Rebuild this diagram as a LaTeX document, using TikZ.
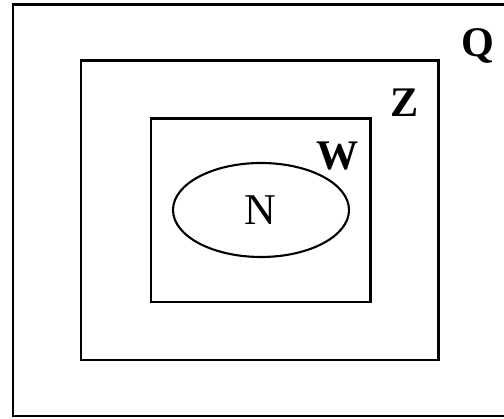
\documentclass[tikz,border=0pt]{standalone}
\usepackage{fontspec}
\setmainfont{Liberation Serif}
\usetikzlibrary{positioning,shapes.geometric}

\begin{document}
\begin{tikzpicture}[
    setbox/.style={draw=black,line width=1.7pt},
    setlabel/.style={font=\fontsize{24}{28}\selectfont\bfseries,anchor=base,inner sep=0pt},
    subset/.style={draw=black,line width=1.2pt,ellipse,minimum width=3.52cm,minimum height=1.88cm,inner sep=0pt}
  ]
  \clip (0,0) rectangle (10.08,8.38);
  \useasboundingbox (0,0) rectangle (10.08,8.38);
  % nested sets
  \draw[setbox] (0.26,0.06) rectangle (10.6,8.28);
  \draw[setbox] (1.62,1.18) rectangle (8.76,7.16);
  \draw[setbox] (3.02,2.34) rectangle (7.40,6.00);
  \node[subset] (setN) at (5.22,4.18) {};
  % labels
  \node[font=\fontsize{25}{30}\selectfont,anchor=base,inner sep=0pt] (labN) at (5.20,3.88) {N};
  \node[setlabel] (labW) at (6.76,4.98) {W};
  \node[setlabel] (labZ) at (8.10,6.04) {Z};
  \node[setlabel] (labQ) at (9.56,7.24) {Q};
\end{tikzpicture}
\end{document}
